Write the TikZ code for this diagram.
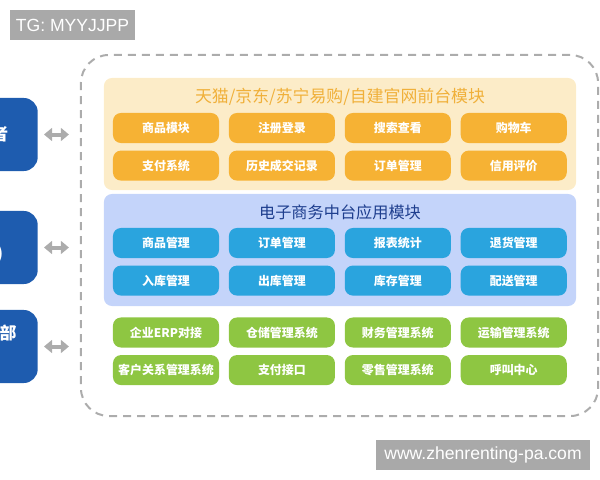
\documentclass[tikz,border=0pt]{standalone}
\usepackage{fontspec}
\setmainfont{Noto Sans CJK SC}
\newfontfamily\wmfont{Liberation Sans}
\usepackage{xcolor}
\usetikzlibrary{arrows.meta, positioning}
\definecolor{framecolor}{RGB}{172, 172, 172}
\definecolor{partycolor}{RGB}{30, 92, 175}
\definecolor{frontbgcolor}{RGB}{252, 236, 200}
\definecolor{fronttitle}{RGB}{240, 176, 58}
\definecolor{frontcolor}{RGB}{246, 178, 52}
\definecolor{midbgcolor}{RGB}{196, 212, 250}
\definecolor{midtitle}{RGB}{30, 62, 142}
\definecolor{midcolor}{RGB}{42, 164, 222}
\definecolor{backcolor}{RGB}{142, 198, 66}
\definecolor{wmgray}{RGB}{169, 169, 169}

\begin{document}
\begin{tikzpicture}[x=0.025cm, y=-0.025cm, every node/.style={font=\small},
  btn/.style={rounded corners=0.2cm, minimum width=2.65cm, minimum height=0.75cm, inner sep=0pt, text=white, font=\fontsize{8.5}{10}\selectfont\bfseries},
  frontbtn/.style={btn, fill=frontcolor},
  midbtn/.style={btn, fill=midcolor},
  backbtn/.style={btn, fill=backcolor},
  panel/.style={rounded corners=0.2cm, minimum width=11.8cm, minimum height=2.8cm, inner sep=0pt},
  party/.style={fill=partycolor, rounded corners=0.35cm, minimum width=1.9cm, minimum height=1.825cm, inner sep=0pt, text=white, align=center, font=\fontsize{12}{20}\selectfont\bfseries},
  link/.style={{Triangle[length=0.2cm, width=0.32cm]}-{Triangle[length=0.2cm, width=0.32cm]}, line width=0.1cm, draw=framecolor, shorten <=0.15cm, shorten >=0.275cm},
  watermark/.style={fill=wmgray, minimum height=0.75cm, inner sep=0pt, text=white, font=\wmfont\fontsize{12.5}{14}\selectfont}]
  \useasboundingbox (0,0) rectangle (600,480);

  % Outer dashed frame
  \node[draw=framecolor, dashed, dash pattern=on 0.2cm off 0.15cm, line width=0.05cm, rounded corners=0.7cm, minimum width=12.925cm, minimum height=9.025cm] (frame) at (339.5,235.5) {};

  % Front-end panel
  \node[panel, fill=frontbgcolor] (front) at (340,134) {};
  \node[text=fronttitle, font=\fontsize{12}{14}\selectfont] (fronttitle) at (340,97) {天猫/京东/苏宁易购/自建官网前台模块};
  \node[frontbtn] (f1) at (166,128) {商品模块};
  \node[frontbtn, right=0.233cm of f1] (f2) {注册登录};
  \node[frontbtn, right=0.233cm of f2] (f3) {搜索查看};
  \node[frontbtn, right=0.233cm of f3] (f4) {购物车};
  \node[frontbtn, below=0.175cm of f1] (f5) {支付系统};
  \node[frontbtn, right=0.233cm of f5] (f6) {历史成交记录};
  \node[frontbtn, right=0.233cm of f6] (f7) {订单管理};
  \node[frontbtn, right=0.233cm of f7] (f8) {信用评价};

  % Middle platform panel
  \node[panel, fill=midbgcolor] (mid) at (340,250) {};
  \node[text=midtitle, font=\fontsize{11.5}{14}\selectfont] (midtitle) at (340,212) {电子商务中台应用模块};
  \node[midbtn] (m1) at (166,243) {商品管理};
  \node[midbtn, right=0.233cm of m1] (m2) {订单管理};
  \node[midbtn, right=0.233cm of m2] (m3) {报表统计};
  \node[midbtn, right=0.233cm of m3] (m4) {退货管理};
  \node[midbtn, below=0.175cm of m1] (m5) {入库管理};
  \node[midbtn, right=0.233cm of m5] (m6) {出库管理};
  \node[midbtn, right=0.233cm of m6] (m7) {库存管理};
  \node[midbtn, right=0.233cm of m7] (m8) {配送管理};

  % Back-end systems
  \node[backbtn] (b1) at (166,332.5) {企业ERP对接};
  \node[backbtn, right=0.233cm of b1] (b2) {仓储管理系统};
  \node[backbtn, right=0.233cm of b2] (b3) {财务管理系统};
  \node[backbtn, right=0.233cm of b3] (b4) {运输管理系统};
  \node[backbtn, below=0.175cm of b1] (b5) {客户关系管理系统};
  \node[backbtn, right=0.233cm of b5] (b6) {支付接口};
  \node[backbtn, right=0.233cm of b6] (b7) {零售管理系统};
  \node[backbtn, right=0.233cm of b7] (b8) {呼叫中心};

  % Parties on the left (cut off by the page edge)
  \node[party, anchor=east] (cons) at (38,134.5) {者};
  \node[party, anchor=east] (supp) at (38,247.5) {\mbox{}\\)};
  \node[party, anchor=east] (dept) at (38,346.5) {\phantom{部}部\\\mbox{}};

  % Arrows
  \draw[link] (cons.east) -- (cons.east -| frame.west);
  \draw[link] (supp.east) -- (supp.east -| frame.west);
  \draw[link] (dept.east) -- (dept.east -| frame.west);

  % Watermarks
  \node[watermark, minimum width=3.125cm] (tag) at (72.5,25) {TG: MYYJJPP};
  \node[watermark, minimum width=5.35cm] (site) at (483,455) {www.zhenrenting-pa.com};
\end{tikzpicture}
\end{document}
